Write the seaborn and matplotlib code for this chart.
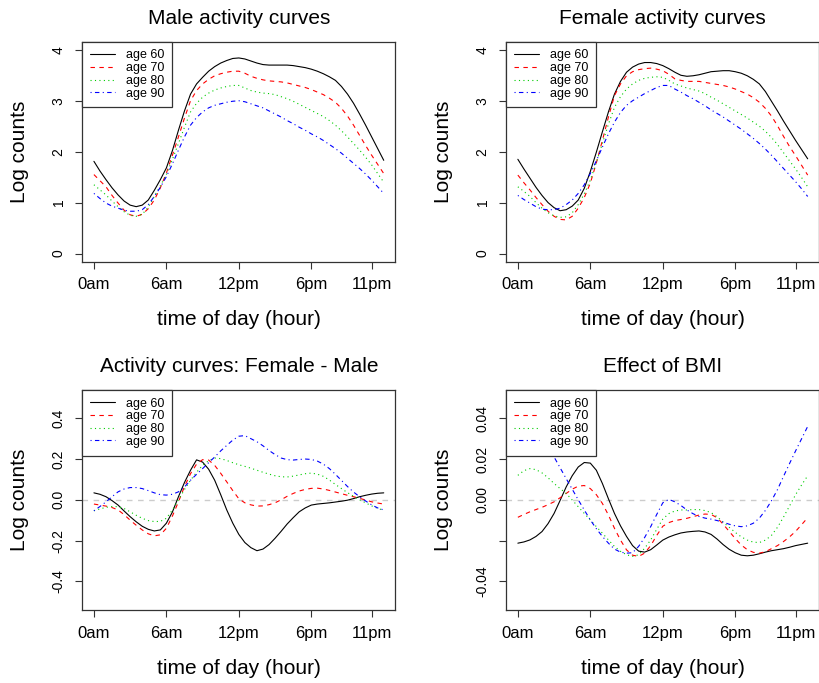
import matplotlib
matplotlib.use("Agg")
import matplotlib.pyplot as plt
import seaborn as sns

half_hours = [h / 2 for h in range(49)]      # curves read every half hour, 0..24
ages = ["age 60", "age 70", "age 80", "age 90"]
tick_hours = [0, 6, 12, 18, 23]
tick_labels = ["0am", "6am", "12pm", "6pm", "11pm"]

# male activity curves (log counts)
male_60 = [1.81, 1.62, 1.45, 1.29, 1.15, 1.03, 0.95, 0.92, 0.95, 1.05,
           1.24, 1.45, 1.68, 2.02, 2.42, 2.80, 3.13, 3.33, 3.46, 3.58,
           3.67, 3.74, 3.79, 3.83, 3.84, 3.82, 3.78, 3.74, 3.71, 3.70,
           3.70, 3.70, 3.70, 3.69, 3.67, 3.65, 3.62, 3.58, 3.53, 3.47,
           3.40, 3.28, 3.13, 2.95, 2.74, 2.52, 2.29, 2.06, 1.83]
male_70 = [1.55, 1.43, 1.31, 1.14, 0.99, 0.85, 0.76, 0.73, 0.77, 0.88,
           1.05, 1.29, 1.58, 1.93, 2.29, 2.66, 3.00, 3.20, 3.33, 3.42,
           3.49, 3.53, 3.56, 3.58, 3.58, 3.54, 3.48, 3.44, 3.41, 3.39,
           3.38, 3.37, 3.35, 3.32, 3.29, 3.26, 3.22, 3.17, 3.12, 3.05,
           2.97, 2.85, 2.70, 2.52, 2.32, 2.12, 1.93, 1.75, 1.57]
male_80 = [1.35, 1.25, 1.15, 1.03, 0.92, 0.82, 0.75, 0.73, 0.77, 0.91,
           1.12, 1.33, 1.55, 1.85, 2.16, 2.48, 2.78, 2.95, 3.07, 3.15,
           3.21, 3.25, 3.28, 3.30, 3.30, 3.25, 3.20, 3.17, 3.15, 3.14,
           3.12, 3.08, 3.04, 2.99, 2.93, 2.87, 2.81, 2.75, 2.69, 2.61,
           2.52, 2.41, 2.29, 2.16, 2.03, 1.89, 1.74, 1.57, 1.40]
male_90 = [1.18, 1.08, 0.99, 0.93, 0.89, 0.85, 0.83, 0.83, 0.86, 0.96,
           1.12, 1.30, 1.51, 1.76, 2.03, 2.29, 2.52, 2.67, 2.78, 2.86,
           2.91, 2.94, 2.97, 2.99, 3.00, 2.98, 2.94, 2.90, 2.86, 2.80,
           2.74, 2.68, 2.61, 2.55, 2.48, 2.42, 2.35, 2.29, 2.22, 2.14,
           2.06, 1.97, 1.87, 1.77, 1.67, 1.56, 1.44, 1.31, 1.18]

# female activity curves
female_60 = [1.85, 1.66, 1.48, 1.30, 1.14, 1.00, 0.90, 0.84, 0.86, 0.93,
             1.05, 1.28, 1.61, 1.99, 2.39, 2.78, 3.13, 3.38, 3.56, 3.66,
             3.72, 3.75, 3.75, 3.73, 3.69, 3.63, 3.56, 3.50, 3.48, 3.49,
             3.51, 3.54, 3.57, 3.58, 3.59, 3.59, 3.57, 3.54, 3.49, 3.42,
             3.33, 3.18, 2.99, 2.80, 2.60, 2.41, 2.22, 2.04, 1.86]
female_70 = [1.54, 1.39, 1.25, 1.10, 0.96, 0.83, 0.73, 0.67, 0.66, 0.73,
             0.89, 1.10, 1.38, 1.78, 2.22, 2.68, 3.10, 3.33, 3.49, 3.57,
             3.61, 3.63, 3.64, 3.62, 3.59, 3.52, 3.43, 3.40, 3.38, 3.38,
             3.38, 3.36, 3.34, 3.32, 3.30, 3.27, 3.23, 3.18, 3.13, 3.06,
             2.97, 2.85, 2.70, 2.51, 2.30, 2.10, 1.92, 1.73, 1.54]
female_80 = [1.31, 1.22, 1.12, 1.00, 0.89, 0.80, 0.74, 0.71, 0.72, 0.80,
             0.96, 1.17, 1.44, 1.79, 2.16, 2.54, 2.87, 3.08, 3.23, 3.33,
             3.40, 3.44, 3.46, 3.47, 3.46, 3.40, 3.33, 3.29, 3.25, 3.22,
             3.19, 3.14, 3.07, 3.01, 2.94, 2.87, 2.80, 2.73, 2.66, 2.58,
             2.50, 2.40, 2.28, 2.14, 1.98, 1.82, 1.66, 1.49, 1.31]
female_90 = [1.14, 1.06, 0.99, 0.92, 0.87, 0.86, 0.86, 0.89, 0.96, 1.05,
             1.18, 1.35, 1.57, 1.82, 2.09, 2.35, 2.58, 2.77, 2.91, 3.00,
             3.07, 3.14, 3.20, 3.26, 3.30, 3.30, 3.23, 3.17, 3.10, 3.04,
             2.97, 2.90, 2.82, 2.75, 2.68, 2.60, 2.52, 2.44, 2.35, 2.26,
             2.16, 2.05, 1.93, 1.80, 1.67, 1.54, 1.41, 1.27, 1.12]

# female - male difference
diff_60 = [0.034, 0.027, 0.015, -0.004, -0.026, -0.055, -0.083, -0.108, -0.13, -0.145,
           -0.153, -0.148, -0.115, -0.06, 0.015, 0.085, 0.145, 0.196, 0.185, 0.15,
           0.096, 0.025, -0.05, -0.115, -0.17, -0.21, -0.235, -0.25, -0.242, -0.22,
           -0.189, -0.155, -0.119, -0.088, -0.059, -0.04, -0.026, -0.021, -0.018, -0.015,
           -0.011, -0.007, -0.002, 0.006, 0.015, 0.022, 0.028, 0.032, 0.034]
diff_70 = [-0.021, -0.026, -0.031, -0.038, -0.05, -0.073, -0.10, -0.125, -0.148, -0.167,
           -0.177, -0.172, -0.14, -0.08, -0.01, 0.065, 0.128, 0.175, 0.197, 0.195,
           0.169, 0.13, 0.088, 0.045, 0.005, -0.015, -0.025, -0.031, -0.03, -0.024,
           -0.015, 0.0, 0.017, 0.031, 0.043, 0.051, 0.056, 0.057, 0.053, 0.046,
           0.038, 0.03, 0.022, 0.015, 0.007, -0.001, -0.01, -0.016, -0.021]
diff_80 = [-0.054, -0.045, -0.037, -0.033, -0.034, -0.043, -0.059, -0.076, -0.091, -0.102,
           -0.107, -0.106, -0.091, -0.05, 0.0, 0.05, 0.096, 0.135, 0.169, 0.192,
           0.205, 0.202, 0.193, 0.182, 0.172, 0.164, 0.155, 0.145, 0.135, 0.126,
           0.118, 0.113, 0.112, 0.116, 0.122, 0.128, 0.131, 0.126, 0.115, 0.097,
           0.075, 0.055, 0.035, 0.017, 0.0, -0.015, -0.03, -0.042, -0.052]
diff_90 = [-0.054, -0.033, -0.01, 0.015, 0.039, 0.053, 0.06, 0.06, 0.055, 0.045,
           0.034, 0.025, 0.023, 0.027, 0.039, 0.063, 0.096, 0.125, 0.153, 0.182,
           0.21, 0.24, 0.267, 0.293, 0.312, 0.315, 0.30, 0.285, 0.265, 0.242,
           0.222, 0.205, 0.197, 0.195, 0.198, 0.2, 0.198, 0.19, 0.175, 0.153,
           0.125, 0.095, 0.065, 0.038, 0.015, -0.006, -0.025, -0.04, -0.05]

# effect of BMI
bmi_60 = [-0.0213, -0.0207, -0.0197, -0.018, -0.0156, -0.0117, -0.0067, -0.0003, 0.0063, 0.0118,
          0.0161, 0.0183, 0.018, 0.0145, 0.008, 0.0005, -0.0067, -0.0128, -0.018, -0.0225,
          -0.0252, -0.0257, -0.0245, -0.0222, -0.0198, -0.0183, -0.0172, -0.0163, -0.0158, -0.0155,
          -0.0153, -0.0158, -0.017, -0.0193, -0.022, -0.0243, -0.026, -0.0272, -0.0275, -0.0272,
          -0.0265, -0.0257, -0.025, -0.0245, -0.024, -0.0233, -0.0225, -0.0219, -0.0213]
bmi_70 = [-0.0086, -0.0072, -0.0059, -0.0048, -0.0037, -0.0024, -0.001, 0.001, 0.0031, 0.0052,
          0.0067, 0.007, 0.0055, 0.0025, -0.0018, -0.0075, -0.014, -0.0198, -0.0246, -0.0272,
          -0.0278, -0.0262, -0.0225, -0.0175, -0.013, -0.0112, -0.0102, -0.0097, -0.0091, -0.0083,
          -0.0075, -0.007, -0.0072, -0.0088, -0.012, -0.0155, -0.019, -0.0222, -0.0245, -0.0258,
          -0.0262, -0.0255, -0.024, -0.0225, -0.0205, -0.0182, -0.0155, -0.0122, -0.0088]
bmi_80 = [0.012, 0.0143, 0.0153, 0.0148, 0.0132, 0.0108, 0.008, 0.0055, 0.0031, -0.0001,
          -0.0034, -0.0067, -0.0099, -0.0132, -0.0164, -0.0197, -0.0229, -0.0253, -0.027, -0.0278,
          -0.027, -0.0238, -0.0197, -0.0145, -0.0095, -0.0068, -0.0055, -0.005, -0.005, -0.0048,
          -0.0048, -0.0053, -0.0063, -0.0083, -0.011, -0.0135, -0.016, -0.0182, -0.0198, -0.0208,
          -0.021, -0.0198, -0.0175, -0.0135, -0.0085, -0.003, 0.0025, 0.0073, 0.0118]
bmi_90 = [0.036, 0.0365, 0.036, 0.034, 0.031, 0.026, 0.021, 0.0157, 0.0104, 0.0052,
          0.0, -0.005, -0.0099, -0.0142, -0.018, -0.0213, -0.0242, -0.0257, -0.0262, -0.026,
          -0.0229, -0.0185, -0.0132, -0.0072, -0.0015, 0.0002, -0.001, -0.0028, -0.005, -0.0068,
          -0.0082, -0.009, -0.0095, -0.0102, -0.011, -0.012, -0.0128, -0.0132, -0.0128, -0.0115,
          -0.009, -0.0052, -0.0005, 0.005, 0.0115, 0.0178, 0.024, 0.030, 0.036]

sns.set_style("ticks")
plt.rcParams["font.family"] = ["Liberation Sans", "DejaVu Sans"]
plt.rcParams["text.color"] = "black"
plt.rcParams["axes.labelcolor"] = "black"
plt.rcParams["xtick.color"] = "#333333"
plt.rcParams["ytick.color"] = "#333333"
plt.rcParams["xtick.labelcolor"] = "black"
plt.rcParams["ytick.labelcolor"] = "black"

line_colors = ["black", "red", "#00cd00", "blue"]
line_styles = ["-", (0, (4, 4)), (0, (1, 3)), (0, (1, 3, 4, 3))]

fig = plt.figure(figsize=(8.2, 6.83), dpi=100)


def panel(rect, series, title, ylim, yticks, ylabels, zero_line=False):
    ax = fig.add_axes(rect)
    if zero_line:
        ax.axhline(0, color="#cccccc", lw=1, ls=(0, (4, 4)), zorder=1)
    for age, vals, c, ls in zip(ages, series, line_colors, line_styles):
        sns.lineplot(x=half_hours, y=vals, color=c, linestyle=ls, linewidth=0.8,
                     label=age, errorbar=None, ax=ax)
    ax.set_xlim(-0.96, 24.96)
    ax.set_ylim(*ylim)
    ax.set_xticks(tick_hours)
    ax.set_xticklabels(tick_labels)
    ax.set_yticks(yticks)
    ax.set_yticklabels(ylabels, rotation=90, va="center")
    ax.tick_params(direction="out", length=5, width=0.8)
    ax.tick_params(axis="x", labelsize=12, pad=6.4)
    ax.tick_params(axis="y", labelsize=10, pad=7)
    for s in ax.spines.values():
        s.set_color("#333333")
        s.set_linewidth(0.9)
    ax.set_title(title, fontsize=15, pad=13)
    ax.set_xlabel("time of day (hour)", fontsize=15)
    ax.set_ylabel("Log counts", fontsize=15)
    ax.xaxis.set_label_coords(0.5, -0.222)
    ax.yaxis.set_label_coords(-0.169, 0.5)
    leg = ax.legend(loc="upper left", frameon=True, fancybox=False, framealpha=1,
                    edgecolor="#333333", borderaxespad=0, fontsize=9,
                    handlelength=2.0, labelspacing=0.06, borderpad=0.62,
                    handletextpad=0.9)
    leg.get_frame().set_linewidth(0.9)
    return ax


w, h = 313 / 820, 220 / 683
panel([0.1004, 0.6169, w, h], [male_60, male_70, male_80, male_90],
      "Male activity curves", (-0.16, 4.16), [0, 1, 2, 3, 4], ["0", "1", "2", "3", "4"])
panel([0.6174, 0.6169, w, h], [female_60, female_70, female_80, female_90],
      "Female activity curves", (-0.16, 4.16), [0, 1, 2, 3, 4], ["0", "1", "2", "3", "4"])
panel([0.1004, 0.1072, w, h], [diff_60, diff_70, diff_80, diff_90],
      "Activity curves: Female - Male", (-0.54, 0.54),
      [-0.4, -0.2, 0.0, 0.2, 0.4], ["-0.4", "-0.2", "0.0", "0.2", "0.4"], zero_line=True)
panel([0.6174, 0.1072, w, h], [bmi_60, bmi_70, bmi_80, bmi_90],
      "Effect of BMI", (-0.054, 0.054),
      [-0.04, -0.02, 0.0, 0.02, 0.04], ["-0.04", "", "0.00", "0.02", "0.04"], zero_line=True)

fig.savefig("out.png", dpi=100, facecolor="white")
